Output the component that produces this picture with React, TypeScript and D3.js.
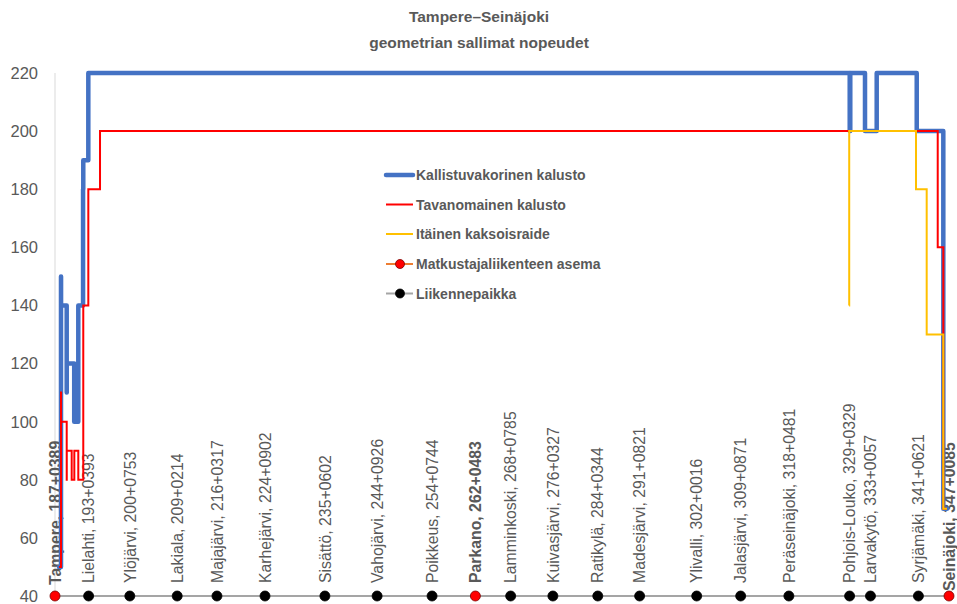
import React from "react";
import * as d3 from "d3";

// Tampere–Seinäjoki: line speeds permitted by track geometry

const W = 957;
const H = 604;

const stationNames = [
  "Tampere", "Lielahti", "Ylöjärvi", "Lakiala", "Majajärvi", "Karhejärvi",
  "Sisättö", "Vahojärvi", "Poikkeus", "Parkano", "Lamminkoski", "Kuivasjärvi",
  "Ratikylä", "Madesjärvi", "Ylivalli", "Jalasjärvi", "Peräseinäjoki",
  "Pohjois-Louko", "Larvakytö", "Syrjämäki", "Seinäjoki",
];

const stationKm = [
  "187+0389", "193+0393", "200+0753", "209+0214", "216+0317", "224+0902",
  "235+0602", "244+0926", "254+0744", "262+0483", "268+0785", "276+0327",
  "284+0344", "291+0821", "302+0016", "309+0871", "318+0481",
  "329+0329", "333+0057", "341+0621", "347+0085",
];

const passengerStations = ["Tampere", "Parkano", "Seinäjoki"];

// [km, km/h] — each speed holds until the next change point
const tiltingSpeed: [number, number][] = [
  [188.1, 50], [188.46, 150], [188.47, 140], [189.48, 110], [189.49, 120],
  [190.82, 100], [191.55, 140], [192.4, 180], [192.44, 190], [193.34, 220],
  [329.35, 200], [329.45, 220], [332.08, 200], [334.17, 220], [341.32, 200],
  [346.07, 70], [346.73, 70],
];

const conventionalSpeed: [number, number][] = [
  [188.1, 50], [188.46, 110], [188.47, 100], [189.48, 80], [189.49, 90],
  [190.37, 80], [190.84, 90], [191.55, 80], [192.44, 140], [193.34, 180],
  [195.43, 200], [345.07, 160], [346.07, 70], [346.73, 70],
];

const easternDoubleTrack: [number, number][] = [
  [329.25, 140], [329.26, 200], [341.19, 180], [343.1, 130], [346.07, 70],
  [346.73, 70],
];

const yTicks = [40, 60, 80, 100, 120, 140, 160, 180, 200, 220];

const legendLabels = [
  "Kallistuvakorinen kalusto",
  "Tavanomainen kalusto",
  "Itäinen kaksoisraide",
  "Matkustajaliikenteen asema",
  "Liikennepaikka",
];

const titleLines = ["Tampere–Seinäjoki", "geometrian sallimat nopeudet"];

const parseKm = (s: string) => {
  const [k, m] = s.split("+");
  return +k + +m / 1000;
};

const FONT = "'Liberation Sans', Arial, sans-serif";
const TEXT = "#595959";
const BLUE = "#4472C4";
const RED = "#FF0000";
const YELLOW = "#FFC000";
const ORANGE = "#ED7D31";
const GREY = "#A5A5A5";

export default function App() {
  const x = d3.scaleLinear().domain([187.389, 347.085]).range([55, 949]);
  const y = d3.scaleLinear().domain([40, 220]).range([596, 73]);

  const step = d3
    .line<[number, number]>()
    .x((d) => x(d[0]))
    .y((d) => y(d[1]))
    .curve(d3.curveStepAfter);

  const stations = stationNames.map((name, i) => ({
    name,
    label: `${name}, ${stationKm[i]}`,
    km: parseKm(stationKm[i]),
    passenger: passengerStations.includes(name),
  }));
  const passengerPts = stations.filter((s) => s.passenger);

  const flat = d3
    .line<{ km: number }>()
    .x((d) => x(d.km))
    .y(() => y(40));

  const legendY = [175, 204.5, 234, 264, 293.5];
  const legendStyle = [
    { color: BLUE, width: 4.5, marker: null as null | string },
    { color: RED, width: 2, marker: null },
    { color: YELLOW, width: 2, marker: null },
    { color: ORANGE, width: 2, marker: RED },
    { color: GREY, width: 2, marker: "#000" },
  ];

  const labelStart = (name: string) =>
    name === "Seinäjoki" ? 591 : name === "Tampere" ? 585 : 583;

  return (
    <svg
      width={W}
      height={H}
      style={{ position: "absolute", left: 0, top: 0, background: "#fff" }}
      fontFamily={FONT}
    >
      <rect width={W} height={H} fill="#fff" />

      {/* title */}
      {titleLines.map((t, i) => (
        <text
          key={t}
          x={479}
          y={17 + i * 26}
          dy="0.35em"
          textAnchor="middle"
          fontWeight="bold"
          fontSize={15.5}
          fill={TEXT}
        >
          {t}
        </text>
      ))}

      {/* y axis */}
      <line x1={x(187.389)} x2={x(187.389)} y1={y(220)} y2={y(40)} stroke="#D9D9D9" strokeWidth={1} />
      {yTicks.map((t) => (
        <text key={t} x={38} y={y(t)} dy="0.36em" textAnchor="end" fontSize={16.5} fill={TEXT}>
          {t}
        </text>
      ))}

      {/* stations along the line */}
      <path d={flat(passengerPts) ?? ""} fill="none" stroke={ORANGE} strokeWidth={2} />
      <path d={flat(stations) ?? ""} fill="none" stroke={GREY} strokeWidth={2} />
      {stations.map((s) => (
        <circle
          key={s.name}
          cx={x(s.km)}
          cy={y(40)}
          r={5}
          fill={s.passenger ? RED : "#000"}
          stroke={s.passenger ? "#7a0000" : "#000"}
          strokeWidth={0.8}
        />
      ))}

      {/* station labels */}
      {stations.map((s) => (
        <text
          key={s.name}
          transform={`translate(${x(s.km)},${labelStart(s.name)}) rotate(-90)`}
          dy="0.36em"
          fontSize={15.8}
          fontWeight={s.passenger ? "bold" : "normal"}
          fill={TEXT}
        >
          {s.label}
        </text>
      ))}

      {/* speed profiles */}
      <path d={step(tiltingSpeed) ?? ""} fill="none" stroke={BLUE} strokeWidth={4.5} strokeLinejoin="round" strokeLinecap="round" />
      <path d={step(conventionalSpeed) ?? ""} fill="none" stroke={RED} strokeWidth={2} />
      <path d={step(easternDoubleTrack) ?? ""} fill="none" stroke={YELLOW} strokeWidth={2} />

      {/* legend */}
      {legendLabels.map((label, i) => {
        const st = legendStyle[i];
        const ly = legendY[i];
        return (
          <g key={label}>
            <line x1={386} x2={413} y1={ly} y2={ly} stroke={st.color} strokeWidth={st.width} strokeLinecap={i === 0 ? "round" : "butt"} />
            {st.marker && (
              <circle cx={400} cy={ly} r={4.5} fill={st.marker} stroke={st.marker === RED ? "#7a0000" : "#000"} strokeWidth={0.8} />
            )}
            <text x={416} y={ly} dy="0.36em" fontSize={14} fontWeight="bold" fill={TEXT}>
              {label}
            </text>
          </g>
        );
      })}
    </svg>
  );
}
